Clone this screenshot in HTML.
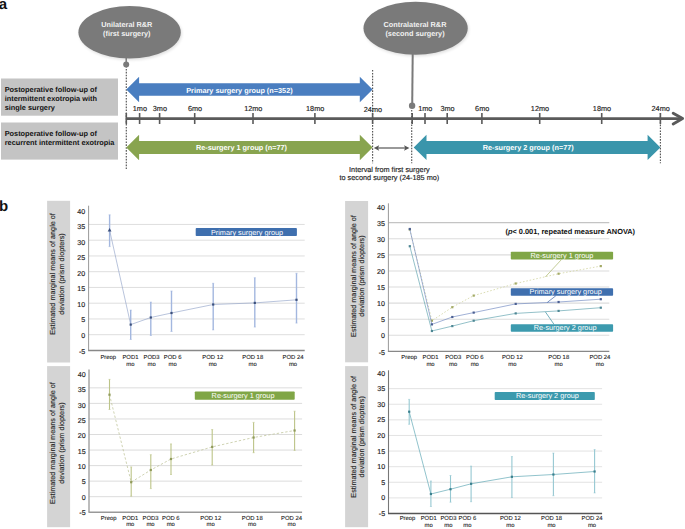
<!DOCTYPE html>
<html><head><meta charset="utf-8"><style>
html,body{margin:0;padding:0;background:#fff;}
svg{display:block;font-family:"Liberation Sans", sans-serif;text-rendering:geometricPrecision;}
</style></head><body><div id="w">
<svg width="685" height="529" viewBox="0 0 685 529">
<defs><filter id="blur" x="-20%" y="-20%" width="140%" height="140%"><feGaussianBlur stdDeviation="1.5"/></filter></defs>
<rect width="685" height="529" fill="#fff"/>
<g>
<text x="-1.2" y="8.6" font-size="15" font-weight="bold" fill="#111">a</text>
<ellipse cx="130.6" cy="33.8" rx="51.2" ry="26.2" fill="#000" opacity="0.12" filter="url(#blur)"/>
<ellipse cx="129.6" cy="32.3" rx="51.2" ry="26.2" fill="#7a7a7a"/>
<text x="126.8" y="27.2" font-size="7.3" font-weight="bold" fill="#f2f2f2" text-anchor="middle">Unilateral R&amp;R</text>
<text x="126.8" y="35.9" font-size="7.3" font-weight="bold" fill="#f2f2f2" text-anchor="middle">(first surgery)</text>
<ellipse cx="416.6" cy="29.7" rx="52.1" ry="26.5" fill="#000" opacity="0.12" filter="url(#blur)"/>
<ellipse cx="415.6" cy="28.2" rx="52.1" ry="26.5" fill="#7a7a7a"/>
<text x="415" y="26.8" font-size="7.3" font-weight="bold" fill="#f2f2f2" text-anchor="middle">Contralateral R&amp;R</text>
<text x="415" y="36.3" font-size="7.3" font-weight="bold" fill="#f2f2f2" text-anchor="middle">(second surgery)</text>
<rect x="1" y="78.5" width="117" height="37.2" fill="#c4c4c4"/>
<rect x="1" y="122.5" width="117" height="37.1" fill="#c4c4c4"/>
<text x="4.7" y="92.4" font-size="7.35" font-weight="bold" fill="#111">Postoperative follow-up of</text>
<text x="4.7" y="101.3" font-size="7.35" font-weight="bold" fill="#111">intermittent exotropia with</text>
<text x="4.7" y="109.9" font-size="7.35" font-weight="bold" fill="#111">single surgery</text>
<text x="4.7" y="136.4" font-size="7.35" font-weight="bold" fill="#111">Postoperative follow-up of</text>
<text x="4.7" y="145.3" font-size="7.35" font-weight="bold" fill="#111">recurrent intermittent exotropia</text>
<line x1="126.3" y1="66" x2="126.3" y2="170" stroke="#555" stroke-width="1.15" stroke-dasharray="1.6 1.3"/>
<line x1="372.6" y1="70" x2="372.6" y2="163.3" stroke="#555" stroke-width="1.15" stroke-dasharray="1.6 1.3"/>
<line x1="411.7" y1="110" x2="411.7" y2="163.3" stroke="#555" stroke-width="1.15" stroke-dasharray="1.6 1.3"/>
<line x1="660.4" y1="113" x2="660.4" y2="163.3" stroke="#555" stroke-width="1.15" stroke-dasharray="1.6 1.3"/>
<line x1="126.2" y1="57" x2="126.2" y2="64" stroke="#7a7a7a" stroke-width="1.5"/>
<circle cx="126.2" cy="64.5" r="3" fill="#7a7a7a"/>
<line x1="412.7" y1="54" x2="412.2" y2="105" stroke="#7a7a7a" stroke-width="2"/>
<circle cx="412.1" cy="105.7" r="3.2" fill="#7a7a7a"/>
<line x1="126" y1="118.6" x2="682" y2="118.6" stroke="#5a5a5a" stroke-width="2.6"/>
<polyline points="673.2,113.2 682.6,118.6 673.2,124" fill="none" stroke="#5a5a5a" stroke-width="2.9" stroke-linejoin="round" stroke-linecap="round"/>
<line x1="126.3" y1="113" x2="126.3" y2="124" stroke="#5a5a5a" stroke-width="1.6"/>
<line x1="139.6" y1="113" x2="139.6" y2="124" stroke="#5a5a5a" stroke-width="1.6"/>
<text x="139.9" y="110.8" font-size="7.3" fill="#1e1e1e" stroke="#1e1e1e" stroke-width="0.15" text-anchor="middle">1mo</text>
<line x1="159.6" y1="113" x2="159.6" y2="124" stroke="#5a5a5a" stroke-width="1.6"/>
<text x="159.9" y="110.8" font-size="7.3" fill="#1e1e1e" stroke="#1e1e1e" stroke-width="0.15" text-anchor="middle">3mo</text>
<line x1="194.7" y1="113" x2="194.7" y2="124" stroke="#5a5a5a" stroke-width="1.6"/>
<text x="195.0" y="110.8" font-size="7.3" fill="#1e1e1e" stroke="#1e1e1e" stroke-width="0.15" text-anchor="middle">6mo</text>
<line x1="253" y1="113" x2="253" y2="124" stroke="#5a5a5a" stroke-width="1.6"/>
<text x="253.3" y="110.8" font-size="7.3" fill="#1e1e1e" stroke="#1e1e1e" stroke-width="0.15" text-anchor="middle">12mo</text>
<line x1="314.9" y1="113" x2="314.9" y2="124" stroke="#5a5a5a" stroke-width="1.6"/>
<text x="315.2" y="110.8" font-size="7.3" fill="#1e1e1e" stroke="#1e1e1e" stroke-width="0.15" text-anchor="middle">18mo</text>
<line x1="372.6" y1="113" x2="372.6" y2="124" stroke="#5a5a5a" stroke-width="1.6"/>
<text x="372.90000000000003" y="112.2" font-size="7.3" fill="#1e1e1e" stroke="#1e1e1e" stroke-width="0.15" text-anchor="middle">24mo</text>
<line x1="412.2" y1="113" x2="412.2" y2="124" stroke="#5a5a5a" stroke-width="1.6"/>
<line x1="425" y1="113" x2="425" y2="124" stroke="#5a5a5a" stroke-width="1.6"/>
<text x="425.3" y="110.8" font-size="7.3" fill="#1e1e1e" stroke="#1e1e1e" stroke-width="0.15" text-anchor="middle">1mo</text>
<line x1="447.2" y1="113" x2="447.2" y2="124" stroke="#5a5a5a" stroke-width="1.6"/>
<text x="447.5" y="110.8" font-size="7.3" fill="#1e1e1e" stroke="#1e1e1e" stroke-width="0.15" text-anchor="middle">3mo</text>
<line x1="481.9" y1="113" x2="481.9" y2="124" stroke="#5a5a5a" stroke-width="1.6"/>
<text x="482.2" y="110.8" font-size="7.3" fill="#1e1e1e" stroke="#1e1e1e" stroke-width="0.15" text-anchor="middle">6mo</text>
<line x1="539.7" y1="113" x2="539.7" y2="124" stroke="#5a5a5a" stroke-width="1.6"/>
<text x="540.0" y="110.8" font-size="7.3" fill="#1e1e1e" stroke="#1e1e1e" stroke-width="0.15" text-anchor="middle">12mo</text>
<line x1="601.7" y1="113" x2="601.7" y2="124" stroke="#5a5a5a" stroke-width="1.6"/>
<text x="602.0" y="110.8" font-size="7.3" fill="#1e1e1e" stroke="#1e1e1e" stroke-width="0.15" text-anchor="middle">18mo</text>
<line x1="660.4" y1="113" x2="660.4" y2="124" stroke="#5a5a5a" stroke-width="1.6"/>
<text x="660.6999999999999" y="110.8" font-size="7.3" fill="#1e1e1e" stroke="#1e1e1e" stroke-width="0.15" text-anchor="middle">24mo</text>
<polygon points="126.3,89.5 139.1,76.7 139.1,83.3 359.8,83.3 359.8,76.7 372.6,89.5 359.8,102.3 359.8,95.7 139.1,95.7 139.1,102.3" fill="#4a7ec0"/>
<polygon points="126.3,147.5 139.1,134.8 139.1,141.0 359.8,141.0 359.8,134.8 372.6,147.5 359.8,160.2 359.8,154.0 139.1,154.0 139.1,160.2" fill="#88a44f"/>
<polygon points="413.7,147.4 426.5,134.7 426.5,140.9 647.6,140.9 647.6,134.7 660.4,147.4 647.6,160.1 647.6,153.9 426.5,153.9 426.5,160.1" fill="#3a95ab"/>
<text x="239.4" y="92.5" font-size="7.3" font-weight="bold" fill="#fff" text-anchor="middle">Primary surgery group (n=352)</text>
<text x="241.5" y="150.4" font-size="7.3" font-weight="bold" fill="#fff" text-anchor="middle">Re-surgery 1 group (n=77)</text>
<text x="528.2" y="149.8" font-size="7.3" font-weight="bold" fill="#fff" text-anchor="middle">Re-surgery 2 group (n=77)</text>
<line x1="376" y1="148" x2="407" y2="148" stroke="#555" stroke-width="1.2"/>
<polygon points="373.8,148 379.2,145.3 378,148 379.2,150.7" fill="#555"/>
<polygon points="409.4,148 404,145.3 405.2,148 404,150.7" fill="#555"/>
<text x="389.4" y="171.6" font-size="7.3" fill="#1e1e1e" stroke="#1e1e1e" stroke-width="0.15" text-anchor="middle">Interval from first surgery</text>
<text x="389.4" y="180.3" font-size="7.3" fill="#1e1e1e" stroke="#1e1e1e" stroke-width="0.15" text-anchor="middle">to second surgery (24-185 mo)</text>
<text x="-1.1" y="210.6" font-size="15" font-weight="bold" fill="#111">b</text>
<rect x="47.1" y="200.8" width="23" height="161.7" fill="#d4d4d4"/>
<text transform="translate(54.9,274) rotate(-90)" font-size="7.25" fill="#222" stroke="#222" stroke-width="0.12" text-anchor="middle">Estimated marginal means of angle of</text>
<text transform="translate(63.9,274) rotate(-90)" font-size="7.25" fill="#222" stroke="#222" stroke-width="0.12" text-anchor="middle">deviation (prism diopters)</text>
<line x1="88.6" y1="334.70" x2="304.7" y2="334.70" stroke="#dadada" stroke-width="0.9"/>
<line x1="88.6" y1="318.95" x2="304.7" y2="318.95" stroke="#dadada" stroke-width="0.9"/>
<line x1="88.6" y1="303.20" x2="304.7" y2="303.20" stroke="#dadada" stroke-width="0.9"/>
<line x1="88.6" y1="287.45" x2="304.7" y2="287.45" stroke="#dadada" stroke-width="0.9"/>
<line x1="88.6" y1="271.70" x2="304.7" y2="271.70" stroke="#dadada" stroke-width="0.9"/>
<line x1="88.6" y1="255.95" x2="304.7" y2="255.95" stroke="#dadada" stroke-width="0.9"/>
<line x1="88.6" y1="240.20" x2="304.7" y2="240.20" stroke="#dadada" stroke-width="0.9"/>
<line x1="88.6" y1="224.45" x2="304.7" y2="224.45" stroke="#dadada" stroke-width="0.9"/>
<text x="85.19999999999999" y="353.52" font-size="7.1" fill="#1a1a1a" stroke="#1a1a1a" stroke-width="0.15" text-anchor="end">-5</text>
<text x="85.19999999999999" y="337.99" font-size="7.1" fill="#1a1a1a" stroke="#1a1a1a" stroke-width="0.15" text-anchor="end">0</text>
<text x="85.19999999999999" y="322.46" font-size="7.1" fill="#1a1a1a" stroke="#1a1a1a" stroke-width="0.15" text-anchor="end">5</text>
<text x="85.19999999999999" y="306.93" font-size="7.1" fill="#1a1a1a" stroke="#1a1a1a" stroke-width="0.15" text-anchor="end">10</text>
<text x="85.19999999999999" y="291.40" font-size="7.1" fill="#1a1a1a" stroke="#1a1a1a" stroke-width="0.15" text-anchor="end">15</text>
<text x="85.19999999999999" y="275.87" font-size="7.1" fill="#1a1a1a" stroke="#1a1a1a" stroke-width="0.15" text-anchor="end">20</text>
<text x="85.19999999999999" y="260.34" font-size="7.1" fill="#1a1a1a" stroke="#1a1a1a" stroke-width="0.15" text-anchor="end">25</text>
<text x="85.19999999999999" y="244.81" font-size="7.1" fill="#1a1a1a" stroke="#1a1a1a" stroke-width="0.15" text-anchor="end">30</text>
<text x="85.19999999999999" y="229.28" font-size="7.1" fill="#1a1a1a" stroke="#1a1a1a" stroke-width="0.15" text-anchor="end">35</text>
<text x="85.19999999999999" y="213.75" font-size="7.1" fill="#1a1a1a" stroke="#1a1a1a" stroke-width="0.15" text-anchor="end">40</text>
<line x1="88.6" y1="205.7" x2="88.6" y2="350.45" stroke="#999" stroke-width="1"/>
<line x1="88.1" y1="350.45" x2="304.7" y2="350.45" stroke="#888" stroke-width="1.4"/>
<text x="108.30" y="358.5" font-size="5.9" fill="#1a1a1a" stroke="#1a1a1a" stroke-width="0.1" text-anchor="middle">Preop</text>
<text x="130.40" y="358.5" font-size="5.9" fill="#1a1a1a" stroke="#1a1a1a" stroke-width="0.1" text-anchor="middle">POD1</text>
<text x="130.40" y="365.6" font-size="5.9" fill="#1a1a1a" stroke="#1a1a1a" stroke-width="0.1" text-anchor="middle">mo</text>
<text x="151.60" y="358.5" font-size="5.9" fill="#1a1a1a" stroke="#1a1a1a" stroke-width="0.1" text-anchor="middle">POD3</text>
<text x="151.60" y="365.6" font-size="5.9" fill="#1a1a1a" stroke="#1a1a1a" stroke-width="0.1" text-anchor="middle">mo</text>
<text x="172.60" y="358.5" font-size="5.9" fill="#1a1a1a" stroke="#1a1a1a" stroke-width="0.1" text-anchor="middle">POD 6</text>
<text x="172.60" y="365.6" font-size="5.9" fill="#1a1a1a" stroke="#1a1a1a" stroke-width="0.1" text-anchor="middle">mo</text>
<text x="212.80" y="358.5" font-size="5.9" fill="#1a1a1a" stroke="#1a1a1a" stroke-width="0.1" text-anchor="middle">POD 12</text>
<text x="212.80" y="365.6" font-size="5.9" fill="#1a1a1a" stroke="#1a1a1a" stroke-width="0.1" text-anchor="middle">mo</text>
<text x="252.70" y="358.5" font-size="5.9" fill="#1a1a1a" stroke="#1a1a1a" stroke-width="0.1" text-anchor="middle">POD 18</text>
<text x="252.70" y="365.6" font-size="5.9" fill="#1a1a1a" stroke="#1a1a1a" stroke-width="0.1" text-anchor="middle">mo</text>
<text x="293.00" y="358.5" font-size="5.9" fill="#1a1a1a" stroke="#1a1a1a" stroke-width="0.1" text-anchor="middle">POD 24</text>
<text x="293.00" y="365.6" font-size="5.9" fill="#1a1a1a" stroke="#1a1a1a" stroke-width="0.1" text-anchor="middle">mo</text>
<line x1="109.60" y1="214.80" x2="109.60" y2="246.60" stroke="#a3b7df" stroke-width="1.4"/>
<line x1="108.60" y1="214.80" x2="110.60" y2="214.80" stroke="#a3b7df" stroke-width="0.6"/>
<line x1="108.60" y1="246.60" x2="110.60" y2="246.60" stroke="#a3b7df" stroke-width="0.6"/>
<line x1="130.70" y1="310.10" x2="130.70" y2="339.50" stroke="#a3b7df" stroke-width="1.4"/>
<line x1="129.70" y1="310.10" x2="131.70" y2="310.10" stroke="#a3b7df" stroke-width="0.6"/>
<line x1="129.70" y1="339.50" x2="131.70" y2="339.50" stroke="#a3b7df" stroke-width="0.6"/>
<line x1="150.80" y1="302.10" x2="150.80" y2="335.50" stroke="#a3b7df" stroke-width="1.4"/>
<line x1="149.80" y1="302.10" x2="151.80" y2="302.10" stroke="#a3b7df" stroke-width="0.6"/>
<line x1="149.80" y1="335.50" x2="151.80" y2="335.50" stroke="#a3b7df" stroke-width="0.6"/>
<line x1="171.50" y1="291.00" x2="171.50" y2="331.50" stroke="#a3b7df" stroke-width="1.4"/>
<line x1="170.50" y1="291.00" x2="172.50" y2="291.00" stroke="#a3b7df" stroke-width="0.6"/>
<line x1="170.50" y1="331.50" x2="172.50" y2="331.50" stroke="#a3b7df" stroke-width="0.6"/>
<line x1="213.20" y1="283.30" x2="213.20" y2="329.90" stroke="#a3b7df" stroke-width="1.4"/>
<line x1="212.20" y1="283.30" x2="214.20" y2="283.30" stroke="#a3b7df" stroke-width="0.6"/>
<line x1="212.20" y1="329.90" x2="214.20" y2="329.90" stroke="#a3b7df" stroke-width="0.6"/>
<line x1="254.80" y1="277.70" x2="254.80" y2="327.10" stroke="#a3b7df" stroke-width="1.4"/>
<line x1="253.80" y1="277.70" x2="255.80" y2="277.70" stroke="#a3b7df" stroke-width="0.6"/>
<line x1="253.80" y1="327.10" x2="255.80" y2="327.10" stroke="#a3b7df" stroke-width="0.6"/>
<line x1="296.50" y1="273.30" x2="296.50" y2="323.10" stroke="#a3b7df" stroke-width="1.4"/>
<line x1="295.50" y1="273.30" x2="297.50" y2="273.30" stroke="#a3b7df" stroke-width="0.6"/>
<line x1="295.50" y1="323.10" x2="297.50" y2="323.10" stroke="#a3b7df" stroke-width="0.6"/>
<polyline points="109.60,230.10 130.70,324.60 150.80,317.50 171.50,313.00 213.20,304.50 254.80,302.90 296.50,299.80" fill="none" stroke="#8a9cc4" stroke-width="0.6"/>
<polygon points="109.60,227.90 111.50,231.40 107.70,231.40" fill="#3b4f7a"/>
<rect x="129.60" y="323.50" width="2.2" height="2.2" fill="#3b4f7a"/>
<rect x="149.70" y="316.40" width="2.2" height="2.2" fill="#3b4f7a"/>
<rect x="170.40" y="311.90" width="2.2" height="2.2" fill="#3b4f7a"/>
<rect x="212.10" y="303.40" width="2.2" height="2.2" fill="#3b4f7a"/>
<rect x="253.70" y="301.80" width="2.2" height="2.2" fill="#3b4f7a"/>
<rect x="295.40" y="298.70" width="2.2" height="2.2" fill="#3b4f7a"/>
<rect x="195.7" y="228.1" width="101.2" height="8" rx="0.8" fill="#3f6fae"/>
<text x="247.00" y="234.80" font-size="7.3" fill="#fff" text-anchor="middle">Primary surgery group</text>
<rect x="345.1" y="201" width="23" height="161.3" fill="#d4d4d4"/>
<text transform="translate(355.8,276.1) rotate(-90)" font-size="7.25" fill="#222" stroke="#222" stroke-width="0.12" text-anchor="middle">Estimated marginal means of angle of</text>
<text transform="translate(364.3,276.1) rotate(-90)" font-size="7.25" fill="#222" stroke="#222" stroke-width="0.12" text-anchor="middle">deviation (prism diopters)</text>
<line x1="388.4" y1="335.30" x2="609.3" y2="335.30" stroke="#dcdcdc" stroke-width="1.1"/>
<line x1="388.4" y1="319.21" x2="609.3" y2="319.21" stroke="#dcdcdc" stroke-width="1.1"/>
<line x1="388.4" y1="303.12" x2="609.3" y2="303.12" stroke="#dcdcdc" stroke-width="1.1"/>
<line x1="388.4" y1="287.03" x2="609.3" y2="287.03" stroke="#dcdcdc" stroke-width="1.1"/>
<line x1="388.4" y1="270.94" x2="609.3" y2="270.94" stroke="#dcdcdc" stroke-width="1.1"/>
<line x1="388.4" y1="254.85" x2="609.3" y2="254.85" stroke="#dcdcdc" stroke-width="1.1"/>
<line x1="388.4" y1="238.76" x2="609.3" y2="238.76" stroke="#dcdcdc" stroke-width="1.1"/>
<line x1="388.4" y1="222.67" x2="609.3" y2="222.67" stroke="#c4c4c4" stroke-width="1.1"/>
<text x="385.0" y="354.54" font-size="7.1" fill="#1a1a1a" stroke="#1a1a1a" stroke-width="0.15" text-anchor="end">-5</text>
<text x="385.0" y="338.45" font-size="7.1" fill="#1a1a1a" stroke="#1a1a1a" stroke-width="0.15" text-anchor="end">0</text>
<text x="385.0" y="322.36" font-size="7.1" fill="#1a1a1a" stroke="#1a1a1a" stroke-width="0.15" text-anchor="end">5</text>
<text x="385.0" y="306.27" font-size="7.1" fill="#1a1a1a" stroke="#1a1a1a" stroke-width="0.15" text-anchor="end">10</text>
<text x="385.0" y="290.18" font-size="7.1" fill="#1a1a1a" stroke="#1a1a1a" stroke-width="0.15" text-anchor="end">15</text>
<text x="385.0" y="274.09" font-size="7.1" fill="#1a1a1a" stroke="#1a1a1a" stroke-width="0.15" text-anchor="end">20</text>
<text x="385.0" y="258.00" font-size="7.1" fill="#1a1a1a" stroke="#1a1a1a" stroke-width="0.15" text-anchor="end">25</text>
<text x="385.0" y="241.91" font-size="7.1" fill="#1a1a1a" stroke="#1a1a1a" stroke-width="0.15" text-anchor="end">30</text>
<text x="385.0" y="225.82" font-size="7.1" fill="#1a1a1a" stroke="#1a1a1a" stroke-width="0.15" text-anchor="end">35</text>
<text x="385.0" y="209.73" font-size="7.1" fill="#1a1a1a" stroke="#1a1a1a" stroke-width="0.15" text-anchor="end">40</text>
<line x1="388.4" y1="203.3" x2="388.4" y2="351.39" stroke="#999" stroke-width="1"/>
<line x1="387.9" y1="351.39" x2="609.3" y2="351.39" stroke="#888" stroke-width="1.4"/>
<text x="409.20" y="359.1" font-size="5.9" fill="#1a1a1a" stroke="#1a1a1a" stroke-width="0.1" text-anchor="middle">Preop</text>
<text x="430.50" y="359.1" font-size="5.9" fill="#1a1a1a" stroke="#1a1a1a" stroke-width="0.1" text-anchor="middle">POD1</text>
<text x="430.50" y="366.1" font-size="5.9" fill="#1a1a1a" stroke="#1a1a1a" stroke-width="0.1" text-anchor="middle">mo</text>
<text x="453.20" y="359.1" font-size="5.9" fill="#1a1a1a" stroke="#1a1a1a" stroke-width="0.1" text-anchor="middle">POD3</text>
<text x="453.20" y="366.1" font-size="5.9" fill="#1a1a1a" stroke="#1a1a1a" stroke-width="0.1" text-anchor="middle">mo</text>
<text x="474.80" y="359.1" font-size="5.9" fill="#1a1a1a" stroke="#1a1a1a" stroke-width="0.1" text-anchor="middle">POD 6</text>
<text x="474.80" y="366.1" font-size="5.9" fill="#1a1a1a" stroke="#1a1a1a" stroke-width="0.1" text-anchor="middle">mo</text>
<text x="512.40" y="359.1" font-size="5.9" fill="#1a1a1a" stroke="#1a1a1a" stroke-width="0.1" text-anchor="middle">POD 12</text>
<text x="512.40" y="366.1" font-size="5.9" fill="#1a1a1a" stroke="#1a1a1a" stroke-width="0.1" text-anchor="middle">mo</text>
<text x="558.70" y="359.1" font-size="5.9" fill="#1a1a1a" stroke="#1a1a1a" stroke-width="0.1" text-anchor="middle">POD 18</text>
<text x="558.70" y="366.1" font-size="5.9" fill="#1a1a1a" stroke="#1a1a1a" stroke-width="0.1" text-anchor="middle">mo</text>
<text x="599.90" y="359.1" font-size="5.9" fill="#1a1a1a" stroke="#1a1a1a" stroke-width="0.1" text-anchor="middle">POD 24</text>
<text x="599.90" y="366.1" font-size="5.9" fill="#1a1a1a" stroke="#1a1a1a" stroke-width="0.1" text-anchor="middle">mo</text>
<polyline points="409.80,229.50 431.90,320.70 452.30,307.20 473.70,295.60 515.70,283.50 558.60,273.70 600.80,266.10" fill="none" stroke="#d2d4a2" stroke-width="0.8" stroke-dasharray="1.6 1.8"/>
<rect x="408.70" y="228.40" width="2.2" height="2.2" fill="#a3aa66"/>
<rect x="430.80" y="319.60" width="2.2" height="2.2" fill="#a3aa66"/>
<rect x="451.20" y="306.10" width="2.2" height="2.2" fill="#a3aa66"/>
<rect x="472.60" y="294.50" width="2.2" height="2.2" fill="#a3aa66"/>
<rect x="514.60" y="282.40" width="2.2" height="2.2" fill="#a3aa66"/>
<rect x="557.50" y="272.60" width="2.2" height="2.2" fill="#a3aa66"/>
<rect x="599.70" y="265.00" width="2.2" height="2.2" fill="#a3aa66"/>
<polyline points="409.80,229.00 431.90,324.40 452.30,317.00 473.70,312.60 515.70,303.90 558.60,302.00 600.80,299.20" fill="none" stroke="#6d86bf" stroke-width="0.65"/>
<rect x="408.70" y="227.90" width="2.2" height="2.2" fill="#4b5f92"/>
<rect x="430.80" y="323.30" width="2.2" height="2.2" fill="#4b5f92"/>
<rect x="451.20" y="315.90" width="2.2" height="2.2" fill="#4b5f92"/>
<rect x="472.60" y="311.50" width="2.2" height="2.2" fill="#4b5f92"/>
<rect x="514.60" y="302.80" width="2.2" height="2.2" fill="#4b5f92"/>
<rect x="557.50" y="300.90" width="2.2" height="2.2" fill="#4b5f92"/>
<rect x="599.70" y="298.10" width="2.2" height="2.2" fill="#4b5f92"/>
<polyline points="409.80,246.20 431.90,331.00 452.30,326.10 473.70,320.70 515.70,313.40 558.60,310.90 600.80,307.70" fill="none" stroke="#5a9fac" stroke-width="0.65"/>
<rect x="408.70" y="245.10" width="2.2" height="2.2" fill="#4f8794"/>
<rect x="430.80" y="329.90" width="2.2" height="2.2" fill="#4f8794"/>
<rect x="451.20" y="325.00" width="2.2" height="2.2" fill="#4f8794"/>
<rect x="472.60" y="319.60" width="2.2" height="2.2" fill="#4f8794"/>
<rect x="514.60" y="312.30" width="2.2" height="2.2" fill="#4f8794"/>
<rect x="557.50" y="309.80" width="2.2" height="2.2" fill="#4f8794"/>
<rect x="599.70" y="306.60" width="2.2" height="2.2" fill="#4f8794"/>
<rect x="510.8" y="251.7" width="102.3" height="7.8" rx="0.8" fill="#80a646"/>
<text x="562.00" y="258.00" font-size="7.3" fill="#fff" text-anchor="middle">Re-surgery 1 group</text>
<rect x="510.8" y="288.2" width="102.3" height="7.6" rx="0.8" fill="#3f6fae"/>
<text x="565.70" y="293.90" font-size="7.3" fill="#fff" text-anchor="middle">Primary surgery group</text>
<rect x="510.8" y="324.2" width="102.3" height="7.5" rx="0.8" fill="#3c9aae"/>
<text x="565.10" y="330.20" font-size="7.3" fill="#fff" text-anchor="middle">Re-surgery 2 group</text>
<rect x="47.1" y="366.1" width="23" height="161.1" fill="#d4d4d4"/>
<text transform="translate(54.9,443.1) rotate(-90)" font-size="7.25" fill="#222" stroke="#222" stroke-width="0.12" text-anchor="middle">Estimated marginal means of angle of</text>
<text transform="translate(63.9,443.1) rotate(-90)" font-size="7.25" fill="#222" stroke="#222" stroke-width="0.12" text-anchor="middle">deviation (prism diopters)</text>
<line x1="89.0" y1="496.70" x2="302.1" y2="496.70" stroke="#d8d8d8" stroke-width="0.9"/>
<line x1="89.0" y1="481.15" x2="302.1" y2="481.15" stroke="#d8d8d8" stroke-width="0.9"/>
<line x1="89.0" y1="465.60" x2="302.1" y2="465.60" stroke="#d8d8d8" stroke-width="0.9"/>
<line x1="89.0" y1="450.05" x2="302.1" y2="450.05" stroke="#d8d8d8" stroke-width="0.9"/>
<line x1="89.0" y1="434.50" x2="302.1" y2="434.50" stroke="#d8d8d8" stroke-width="0.9"/>
<line x1="89.0" y1="418.95" x2="302.1" y2="418.95" stroke="#d8d8d8" stroke-width="0.9"/>
<line x1="89.0" y1="403.40" x2="302.1" y2="403.40" stroke="#d8d8d8" stroke-width="0.9"/>
<line x1="89.0" y1="387.85" x2="302.1" y2="387.85" stroke="#d8d8d8" stroke-width="0.9"/>
<text x="85.6" y="515.11" font-size="7.1" fill="#1a1a1a" stroke="#1a1a1a" stroke-width="0.15" text-anchor="end">-5</text>
<text x="85.6" y="499.75" font-size="7.1" fill="#1a1a1a" stroke="#1a1a1a" stroke-width="0.15" text-anchor="end">0</text>
<text x="85.6" y="484.39" font-size="7.1" fill="#1a1a1a" stroke="#1a1a1a" stroke-width="0.15" text-anchor="end">5</text>
<text x="85.6" y="469.02" font-size="7.1" fill="#1a1a1a" stroke="#1a1a1a" stroke-width="0.15" text-anchor="end">10</text>
<text x="85.6" y="453.66" font-size="7.1" fill="#1a1a1a" stroke="#1a1a1a" stroke-width="0.15" text-anchor="end">15</text>
<text x="85.6" y="438.30" font-size="7.1" fill="#1a1a1a" stroke="#1a1a1a" stroke-width="0.15" text-anchor="end">20</text>
<text x="85.6" y="422.94" font-size="7.1" fill="#1a1a1a" stroke="#1a1a1a" stroke-width="0.15" text-anchor="end">25</text>
<text x="85.6" y="407.57" font-size="7.1" fill="#1a1a1a" stroke="#1a1a1a" stroke-width="0.15" text-anchor="end">30</text>
<text x="85.6" y="392.21" font-size="7.1" fill="#1a1a1a" stroke="#1a1a1a" stroke-width="0.15" text-anchor="end">35</text>
<text x="85.6" y="376.85" font-size="7.1" fill="#1a1a1a" stroke="#1a1a1a" stroke-width="0.15" text-anchor="end">40</text>
<line x1="89.0" y1="369.5" x2="89.0" y2="512.25" stroke="#a0a0a0" stroke-width="1.4"/>
<line x1="88.5" y1="512.25" x2="302.1" y2="512.25" stroke="#999" stroke-width="1.5"/>
<text x="108.70" y="519.5" font-size="5.9" fill="#1a1a1a" stroke="#1a1a1a" stroke-width="0.1" text-anchor="middle">Preop</text>
<text x="130.30" y="519.5" font-size="5.9" fill="#1a1a1a" stroke="#1a1a1a" stroke-width="0.1" text-anchor="middle">POD1</text>
<text x="130.30" y="526.0" font-size="5.9" fill="#1a1a1a" stroke="#1a1a1a" stroke-width="0.1" text-anchor="middle">mo</text>
<text x="150.50" y="519.5" font-size="5.9" fill="#1a1a1a" stroke="#1a1a1a" stroke-width="0.1" text-anchor="middle">POD3</text>
<text x="150.50" y="526.0" font-size="5.9" fill="#1a1a1a" stroke="#1a1a1a" stroke-width="0.1" text-anchor="middle">mo</text>
<text x="170.80" y="519.5" font-size="5.9" fill="#1a1a1a" stroke="#1a1a1a" stroke-width="0.1" text-anchor="middle">POD 6</text>
<text x="170.80" y="526.0" font-size="5.9" fill="#1a1a1a" stroke="#1a1a1a" stroke-width="0.1" text-anchor="middle">mo</text>
<text x="210.70" y="519.5" font-size="5.9" fill="#1a1a1a" stroke="#1a1a1a" stroke-width="0.1" text-anchor="middle">POD 12</text>
<text x="210.70" y="526.0" font-size="5.9" fill="#1a1a1a" stroke="#1a1a1a" stroke-width="0.1" text-anchor="middle">mo</text>
<text x="252.20" y="519.5" font-size="5.9" fill="#1a1a1a" stroke="#1a1a1a" stroke-width="0.1" text-anchor="middle">POD 18</text>
<text x="252.20" y="526.0" font-size="5.9" fill="#1a1a1a" stroke="#1a1a1a" stroke-width="0.1" text-anchor="middle">mo</text>
<text x="291.60" y="519.5" font-size="5.9" fill="#1a1a1a" stroke="#1a1a1a" stroke-width="0.1" text-anchor="middle">POD 24</text>
<text x="291.60" y="526.0" font-size="5.9" fill="#1a1a1a" stroke="#1a1a1a" stroke-width="0.1" text-anchor="middle">mo</text>
<line x1="109.50" y1="379.40" x2="109.50" y2="409.50" stroke="#bcc488" stroke-width="1.1"/>
<line x1="108.50" y1="379.40" x2="110.50" y2="379.40" stroke="#bcc488" stroke-width="0.6"/>
<line x1="108.50" y1="409.50" x2="110.50" y2="409.50" stroke="#bcc488" stroke-width="0.6"/>
<line x1="131.20" y1="466.90" x2="131.20" y2="496.20" stroke="#bcc488" stroke-width="1.1"/>
<line x1="130.20" y1="466.90" x2="132.20" y2="466.90" stroke="#bcc488" stroke-width="0.6"/>
<line x1="130.20" y1="496.20" x2="132.20" y2="496.20" stroke="#bcc488" stroke-width="0.6"/>
<line x1="150.80" y1="454.70" x2="150.80" y2="488.60" stroke="#bcc488" stroke-width="1.1"/>
<line x1="149.80" y1="454.70" x2="151.80" y2="454.70" stroke="#bcc488" stroke-width="0.6"/>
<line x1="149.80" y1="488.60" x2="151.80" y2="488.60" stroke="#bcc488" stroke-width="0.6"/>
<line x1="171.00" y1="443.90" x2="171.00" y2="474.50" stroke="#bcc488" stroke-width="1.1"/>
<line x1="170.00" y1="443.90" x2="172.00" y2="443.90" stroke="#bcc488" stroke-width="0.6"/>
<line x1="170.00" y1="474.50" x2="172.00" y2="474.50" stroke="#bcc488" stroke-width="0.6"/>
<line x1="212.20" y1="429.60" x2="212.20" y2="465.00" stroke="#bcc488" stroke-width="1.1"/>
<line x1="211.20" y1="429.60" x2="213.20" y2="429.60" stroke="#bcc488" stroke-width="0.6"/>
<line x1="211.20" y1="465.00" x2="213.20" y2="465.00" stroke="#bcc488" stroke-width="0.6"/>
<line x1="253.60" y1="422.40" x2="253.60" y2="452.70" stroke="#bcc488" stroke-width="1.1"/>
<line x1="252.60" y1="422.40" x2="254.60" y2="422.40" stroke="#bcc488" stroke-width="0.6"/>
<line x1="252.60" y1="452.70" x2="254.60" y2="452.70" stroke="#bcc488" stroke-width="0.6"/>
<line x1="294.60" y1="411.20" x2="294.60" y2="450.40" stroke="#bcc488" stroke-width="1.1"/>
<line x1="293.60" y1="411.20" x2="295.60" y2="411.20" stroke="#bcc488" stroke-width="0.6"/>
<line x1="293.60" y1="450.40" x2="295.60" y2="450.40" stroke="#bcc488" stroke-width="0.6"/>
<polyline points="109.50,394.70 131.20,482.20 150.80,470.00 171.00,459.00 212.20,446.90 253.60,437.50 294.60,430.50" fill="none" stroke="#bfc49a" stroke-width="0.75" stroke-dasharray="2.4 1.9"/>
<rect x="108.40" y="393.60" width="2.2" height="2.2" fill="#8f9a5a"/>
<rect x="130.10" y="481.10" width="2.2" height="2.2" fill="#8f9a5a"/>
<rect x="149.70" y="468.90" width="2.2" height="2.2" fill="#8f9a5a"/>
<rect x="169.90" y="457.90" width="2.2" height="2.2" fill="#8f9a5a"/>
<rect x="211.10" y="445.80" width="2.2" height="2.2" fill="#8f9a5a"/>
<rect x="252.50" y="436.40" width="2.2" height="2.2" fill="#8f9a5a"/>
<rect x="293.50" y="429.40" width="2.2" height="2.2" fill="#8f9a5a"/>
<rect x="194.8" y="391.4" width="99.9" height="8.4" rx="0.8" fill="#80a646"/>
<text x="243.05" y="398.30" font-size="7.3" fill="#fff" text-anchor="middle">Re-surgery 1 group</text>
<rect x="345.1" y="366.1" width="23" height="161.1" fill="#d4d4d4"/>
<text transform="translate(355.8,436.8) rotate(-90)" font-size="7.25" fill="#222" stroke="#222" stroke-width="0.12" text-anchor="middle">Estimated marginal means of angle of</text>
<text transform="translate(364.3,436.8) rotate(-90)" font-size="7.25" fill="#222" stroke="#222" stroke-width="0.12" text-anchor="middle">deviation (prism diopters)</text>
<line x1="388.5" y1="497.90" x2="602.1" y2="497.90" stroke="#e0e0e0" stroke-width="0.9"/>
<line x1="388.5" y1="482.29" x2="602.1" y2="482.29" stroke="#e0e0e0" stroke-width="0.9"/>
<line x1="388.5" y1="466.68" x2="602.1" y2="466.68" stroke="#e0e0e0" stroke-width="0.9"/>
<line x1="388.5" y1="451.07" x2="602.1" y2="451.07" stroke="#e0e0e0" stroke-width="0.9"/>
<line x1="388.5" y1="435.46" x2="602.1" y2="435.46" stroke="#e0e0e0" stroke-width="0.9"/>
<line x1="388.5" y1="419.85" x2="602.1" y2="419.85" stroke="#e0e0e0" stroke-width="0.9"/>
<line x1="388.5" y1="404.24" x2="602.1" y2="404.24" stroke="#e0e0e0" stroke-width="0.9"/>
<line x1="388.5" y1="388.63" x2="602.1" y2="388.63" stroke="#e0e0e0" stroke-width="0.9"/>
<text x="385.1" y="516.06" font-size="7.1" fill="#1a1a1a" stroke="#1a1a1a" stroke-width="0.15" text-anchor="end">-5</text>
<text x="385.1" y="500.45" font-size="7.1" fill="#1a1a1a" stroke="#1a1a1a" stroke-width="0.15" text-anchor="end">0</text>
<text x="385.1" y="484.84" font-size="7.1" fill="#1a1a1a" stroke="#1a1a1a" stroke-width="0.15" text-anchor="end">5</text>
<text x="385.1" y="469.23" font-size="7.1" fill="#1a1a1a" stroke="#1a1a1a" stroke-width="0.15" text-anchor="end">10</text>
<text x="385.1" y="453.62" font-size="7.1" fill="#1a1a1a" stroke="#1a1a1a" stroke-width="0.15" text-anchor="end">15</text>
<text x="385.1" y="438.01" font-size="7.1" fill="#1a1a1a" stroke="#1a1a1a" stroke-width="0.15" text-anchor="end">20</text>
<text x="385.1" y="422.40" font-size="7.1" fill="#1a1a1a" stroke="#1a1a1a" stroke-width="0.15" text-anchor="end">25</text>
<text x="385.1" y="406.79" font-size="7.1" fill="#1a1a1a" stroke="#1a1a1a" stroke-width="0.15" text-anchor="end">30</text>
<text x="385.1" y="391.18" font-size="7.1" fill="#1a1a1a" stroke="#1a1a1a" stroke-width="0.15" text-anchor="end">35</text>
<text x="385.1" y="375.57" font-size="7.1" fill="#1a1a1a" stroke="#1a1a1a" stroke-width="0.15" text-anchor="end">40</text>
<line x1="388.5" y1="370.3" x2="388.5" y2="513.51" stroke="#777" stroke-width="1.1"/>
<line x1="388.0" y1="513.51" x2="602.1" y2="513.51" stroke="#555" stroke-width="1.5"/>
<text x="407.50" y="520.1" font-size="5.9" fill="#1a1a1a" stroke="#1a1a1a" stroke-width="0.1" text-anchor="middle">Preop</text>
<text x="428.70" y="520.1" font-size="5.9" fill="#1a1a1a" stroke="#1a1a1a" stroke-width="0.1" text-anchor="middle">POD1</text>
<text x="428.70" y="526.7" font-size="5.9" fill="#1a1a1a" stroke="#1a1a1a" stroke-width="0.1" text-anchor="middle">mo</text>
<text x="448.40" y="520.1" font-size="5.9" fill="#1a1a1a" stroke="#1a1a1a" stroke-width="0.1" text-anchor="middle">POD3</text>
<text x="448.40" y="526.7" font-size="5.9" fill="#1a1a1a" stroke="#1a1a1a" stroke-width="0.1" text-anchor="middle">mo</text>
<text x="467.40" y="520.1" font-size="5.9" fill="#1a1a1a" stroke="#1a1a1a" stroke-width="0.1" text-anchor="middle">POD 6</text>
<text x="467.40" y="526.7" font-size="5.9" fill="#1a1a1a" stroke="#1a1a1a" stroke-width="0.1" text-anchor="middle">mo</text>
<text x="510.40" y="520.1" font-size="5.9" fill="#1a1a1a" stroke="#1a1a1a" stroke-width="0.1" text-anchor="middle">POD 12</text>
<text x="510.40" y="526.7" font-size="5.9" fill="#1a1a1a" stroke="#1a1a1a" stroke-width="0.1" text-anchor="middle">mo</text>
<text x="551.50" y="520.1" font-size="5.9" fill="#1a1a1a" stroke="#1a1a1a" stroke-width="0.1" text-anchor="middle">POD 18</text>
<text x="551.50" y="526.7" font-size="5.9" fill="#1a1a1a" stroke="#1a1a1a" stroke-width="0.1" text-anchor="middle">mo</text>
<text x="592.00" y="520.1" font-size="5.9" fill="#1a1a1a" stroke="#1a1a1a" stroke-width="0.1" text-anchor="middle">POD 24</text>
<text x="592.00" y="526.7" font-size="5.9" fill="#1a1a1a" stroke="#1a1a1a" stroke-width="0.1" text-anchor="middle">mo</text>
<line x1="409.20" y1="399.40" x2="409.20" y2="424.30" stroke="#96c8d2" stroke-width="1.1"/>
<line x1="408.20" y1="399.40" x2="410.20" y2="399.40" stroke="#96c8d2" stroke-width="0.6"/>
<line x1="408.20" y1="424.30" x2="410.20" y2="424.30" stroke="#96c8d2" stroke-width="0.6"/>
<line x1="430.90" y1="481.00" x2="430.90" y2="506.50" stroke="#96c8d2" stroke-width="1.1"/>
<line x1="429.90" y1="481.00" x2="431.90" y2="481.00" stroke="#96c8d2" stroke-width="0.6"/>
<line x1="429.90" y1="506.50" x2="431.90" y2="506.50" stroke="#96c8d2" stroke-width="0.6"/>
<line x1="450.50" y1="475.50" x2="450.50" y2="502.20" stroke="#96c8d2" stroke-width="1.1"/>
<line x1="449.50" y1="475.50" x2="451.50" y2="475.50" stroke="#96c8d2" stroke-width="0.6"/>
<line x1="449.50" y1="502.20" x2="451.50" y2="502.20" stroke="#96c8d2" stroke-width="0.6"/>
<line x1="471.10" y1="466.10" x2="471.10" y2="501.70" stroke="#96c8d2" stroke-width="1.1"/>
<line x1="470.10" y1="466.10" x2="472.10" y2="466.10" stroke="#96c8d2" stroke-width="0.6"/>
<line x1="470.10" y1="501.70" x2="472.10" y2="501.70" stroke="#96c8d2" stroke-width="0.6"/>
<line x1="511.90" y1="456.60" x2="511.90" y2="497.50" stroke="#96c8d2" stroke-width="1.1"/>
<line x1="510.90" y1="456.60" x2="512.90" y2="456.60" stroke="#96c8d2" stroke-width="0.6"/>
<line x1="510.90" y1="497.50" x2="512.90" y2="497.50" stroke="#96c8d2" stroke-width="0.6"/>
<line x1="553.40" y1="453.10" x2="553.40" y2="495.70" stroke="#96c8d2" stroke-width="1.1"/>
<line x1="552.40" y1="453.10" x2="554.40" y2="453.10" stroke="#96c8d2" stroke-width="0.6"/>
<line x1="552.40" y1="495.70" x2="554.40" y2="495.70" stroke="#96c8d2" stroke-width="0.6"/>
<line x1="594.60" y1="449.60" x2="594.60" y2="492.90" stroke="#96c8d2" stroke-width="1.1"/>
<line x1="593.60" y1="449.60" x2="595.60" y2="449.60" stroke="#96c8d2" stroke-width="0.6"/>
<line x1="593.60" y1="492.90" x2="595.60" y2="492.90" stroke="#96c8d2" stroke-width="0.6"/>
<polyline points="409.20,411.70 430.90,494.00 450.50,489.20 471.10,483.80 511.90,476.80 553.40,474.50 594.60,471.50" fill="none" stroke="#62a9b6" stroke-width="0.7"/>
<rect x="408.10" y="410.60" width="2.2" height="2.2" fill="#3a7f8c"/>
<rect x="429.80" y="492.90" width="2.2" height="2.2" fill="#3a7f8c"/>
<rect x="449.40" y="488.10" width="2.2" height="2.2" fill="#3a7f8c"/>
<rect x="470.00" y="482.70" width="2.2" height="2.2" fill="#3a7f8c"/>
<rect x="510.80" y="475.70" width="2.2" height="2.2" fill="#3a7f8c"/>
<rect x="552.30" y="473.40" width="2.2" height="2.2" fill="#3a7f8c"/>
<rect x="593.50" y="470.40" width="2.2" height="2.2" fill="#3a7f8c"/>
<rect x="494.7" y="392.1" width="100.1" height="7.9" rx="0.8" fill="#3c9aae"/>
<text x="547.45" y="398.40" font-size="7.3" fill="#fff" text-anchor="middle">Re-surgery 2 group</text>
<line x1="561.5" y1="259.5" x2="545.4" y2="276.9" stroke="#a9b66a" stroke-width="0.7"/>
<line x1="555.8" y1="295.8" x2="547.3" y2="302.4" stroke="#3d64a8" stroke-width="0.7"/>
<line x1="553.9" y1="324.2" x2="545.4" y2="311.9" stroke="#3a8ea0" stroke-width="0.7"/>
<text x="570.3" y="234.2" font-size="7.4" font-weight="bold" fill="#111" text-anchor="middle">(<tspan font-style="italic">p</tspan>&lt; 0.001, repeated measure ANOVA)</text>
</g>
</svg></div>
</body></html>
